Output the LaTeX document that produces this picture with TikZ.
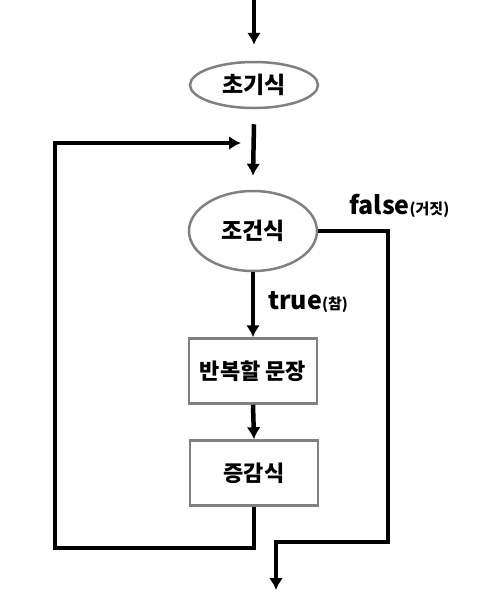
\documentclass[tikz,border=0pt]{standalone}
\usepackage{fontspec}
\setmainfont{Noto Sans CJK KR}
\usetikzlibrary{arrows.meta,shapes.geometric}
\definecolor{edgegray}{RGB}{128,128,128}
\begin{document}
\begin{tikzpicture}[x=1pt, y=-1pt,
        oval/.style={ellipse, draw=edgegray, line width=2.5pt, minimum width=128pt,
                     minimum height=46pt, inner sep=0pt, font=\fontsize{23}{27}\selectfont\bfseries},
        box/.style={rectangle, draw=edgegray, line width=2.5pt, minimum width=128pt,
                    minimum height=65pt, inner sep=0pt, font=\fontsize{22}{26}\selectfont\bfseries},
        arrow/.style={-{Latex[length=12pt,width=14pt]}, line width=4.5pt, black},
        tag/.style={anchor=west, inner sep=0pt, font=\fontsize{25}{29}\selectfont\bfseries}
    ]
    \useasboundingbox (0,0) rectangle (500,600);
    \node[oval] (init) at (254,85) {초기식};
    \node[oval, minimum height=80pt] (cond) at (253,231) {조건식};
    \node[box] (body) at (253,371) {반복할 문장};
    \node[box] (incr) at (254,473) {증감식};

    \coordinate (entry) at (254,0);
    \coordinate (merge) at (254,143);
    \coordinate (loopleft) at (55,548);
    \coordinate (fturn) at (388,542);
    \coordinate (exit) at (276,590);

    \draw[arrow] (entry) -- ([yshift=16pt]init.north);
    \draw[arrow] ([yshift=-15pt]init.south) -- ([yshift=14pt]cond.north);
    \draw[arrow] (cond.south) -- (body.north);
    \draw[arrow] (body.south) -- (incr.north);
    \draw[arrow] (incr.south) |- (loopleft) |- ([xshift=-13pt]merge);
    \draw[arrow] (cond.east) -| (fturn) -| (exit);

    \node[tag] (truelbl) at (268,302) {true{\fontsize{15}{17}\selectfont(참)}};
    \node[tag] (falselbl) at (349,206) {false{\fontsize{15}{17}\selectfont(거짓)}};
\end{tikzpicture}
\end{document}
